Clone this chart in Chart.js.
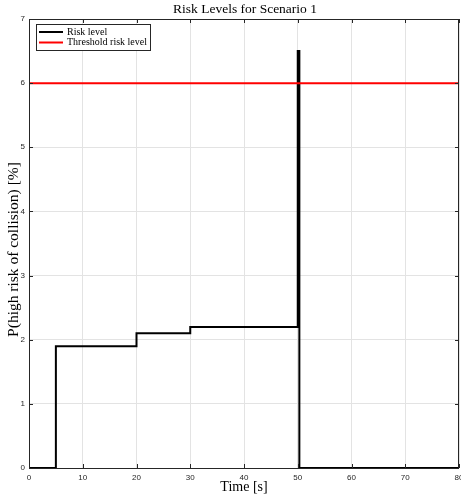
<!DOCTYPE html>
<html>
<head>
<meta charset="utf-8">
<script src="https://cdn.jsdelivr.net/npm/chart.js@4"></script>
<style>
  html, body { margin: 0; padding: 0; background: #ffffff; }
  #wrap { width: 461px; height: 497px; }
</style>
</head>
<body>
<div id="wrap"><canvas id="chart" width="461" height="497"></canvas></div>
<script>
// Risk level over time (step signal) and the fixed threshold
const timeSteps = [0, 5, 20, 30, 50, 50.3, 80];
const riskLevels = [0, 1.9, 2.1, 2.2, 6.5, 0, 0];
const thresholdTimes = [0, 80];
const thresholdValues = [6, 6];

const xTicks = [0, 10, 20, 30, 40, 50, 60, 70, 80];
const yTicks = [0, 1, 2, 3, 4, 5, 6, 7];

const chartTitle = 'Risk Levels for Scenario 1';
const xTitle = 'Time [s]';
const yTitle = 'P(high risk of collision) [%]';
const seriesNames = ['Risk level', 'Threshold risk level'];
const seriesColors = ['#000000', '#ff0000'];

const SERIF = '"Liberation Serif", "Times New Roman", serif';
const SANS = '"Liberation Sans", Arial, sans-serif';
const AXIS_COLOR = '#262626';

function toPoints(xs, ys) {
  return xs.map((x, i) => ({ x: x, y: ys[i] }));
}

// Box, inward tick marks, titles and legend drawn on top of the plot
const decorations = {
  id: 'decorations',
  afterDatasetsDraw(chart) {
    const ctx = chart.ctx;
    const a = chart.chartArea;
    const xs = chart.scales.x, ys = chart.scales.y;
    ctx.save();
    ctx.strokeStyle = AXIS_COLOR;
    ctx.lineWidth = 1;
    ctx.beginPath();
    const tl = 4;
    xTicks.forEach(v => {
      const px = Math.round(xs.getPixelForValue(v)) + 0.5;
      ctx.moveTo(px, a.bottom); ctx.lineTo(px, a.bottom - tl);
      ctx.moveTo(px, a.top); ctx.lineTo(px, a.top + tl);
    });
    yTicks.forEach(v => {
      const py = Math.round(ys.getPixelForValue(v)) + 0.5;
      ctx.moveTo(a.left, py); ctx.lineTo(a.left + tl, py);
      ctx.moveTo(a.right, py); ctx.lineTo(a.right - tl, py);
    });
    ctx.stroke();
    ctx.strokeRect(Math.round(a.left) + 0.5, Math.round(a.top) + 0.5,
                   Math.round(a.right - a.left) - 1, Math.round(a.bottom - a.top));
    ctx.restore();
  },
  afterDraw(chart) {
    const ctx = chart.ctx;
    const a = chart.chartArea;
    const cx = (a.left + a.right) / 2;
    ctx.save();
    ctx.fillStyle = '#000000';
    ctx.textAlign = 'center';
    ctx.textBaseline = 'middle';
    ctx.font = '13.5px ' + SERIF;
    ctx.fillText(chartTitle, cx + 1, a.top - 10);
    ctx.font = '14px ' + SERIF;
    ctx.fillText(xTitle, cx, a.bottom + 19);
    ctx.save();
    ctx.font = '15.5px ' + SERIF;
    ctx.translate(a.left - 15, (a.top + a.bottom) / 2 + 6);
    ctx.rotate(-Math.PI / 2);
    ctx.fillText(yTitle, 0, 0);
    ctx.restore();

    // legend
    ctx.font = '10px ' + SERIF;
    const bx = a.left + 7, by = a.top + 5;
    const textX = bx + 31;
    const w = Math.max(...seriesNames.map(s => ctx.measureText(s).width));
    const bw = Math.round(textX - bx + w + 3), bh = 26;
    ctx.fillStyle = '#ffffff';
    ctx.fillRect(bx, by, bw, bh);
    ctx.strokeStyle = AXIS_COLOR;
    ctx.lineWidth = 1;
    ctx.strokeRect(Math.round(bx) + 0.5, Math.round(by) + 0.5, bw, bh);
    ctx.textAlign = 'left';
    seriesNames.forEach((name, i) => {
      const ry = by + 8 + i * 10.5;
      ctx.strokeStyle = seriesColors[i];
      ctx.lineWidth = 2;
      ctx.beginPath();
      ctx.moveTo(bx + 3, ry); ctx.lineTo(bx + 27, ry);
      ctx.stroke();
      ctx.fillStyle = '#000000';
      ctx.fillText(name, textX, ry);
    });
    ctx.restore();
  }
};

new Chart(document.getElementById('chart'), {
  type: 'line',
  data: {
    datasets: [
      {
        label: seriesNames[0],
        data: toPoints(timeSteps, riskLevels),
        stepped: true,
        borderColor: seriesColors[0],
        borderWidth: 2,
        pointRadius: 0,
        fill: false,
        clip: 4,
        order: 1
      },
      {
        label: seriesNames[1],
        data: toPoints(thresholdTimes, thresholdValues),
        borderColor: seriesColors[1],
        borderWidth: 2,
        pointRadius: 0,
        fill: false,
        clip: 4,
        order: 0
      }
    ]
  },
  options: {
    responsive: false,
    animation: false,
    layout: { padding: { top: 19, right: 2, left: 0, bottom: 0 } },
    plugins: {
      legend: { display: false },
      title: { display: false },
      tooltip: { enabled: false }
    },
    scales: {
      x: {
        type: 'linear',
        min: 0, max: 80,
        afterFit(s) { s.height = 29; s.paddingLeft = 0; s.paddingRight = 0; },
        afterBuildTicks(s) { s.ticks = xTicks.map(v => ({ value: v })); },
        grid: { color: '#e3e3e3', lineWidth: 1, drawTicks: false },
        border: { display: false },
        ticks: {
          autoSkip: false, maxRotation: 0, padding: 5,
          color: AXIS_COLOR,
          font: { family: SANS, size: 8 }
        }
      },
      y: {
        type: 'linear',
        min: 0, max: 7,
        afterFit(s) { s.width = 29; s.paddingTop = 0; s.paddingBottom = 0; },
        afterBuildTicks(s) { s.ticks = yTicks.map(v => ({ value: v })); },
        grid: { color: '#e3e3e3', lineWidth: 1, drawTicks: false },
        border: { display: false },
        ticks: {
          autoSkip: false, padding: 4,
          color: AXIS_COLOR,
          font: { family: SANS, size: 8 }
        }
      }
    }
  },
  plugins: [decorations]
});
</script>
</body>
</html>
